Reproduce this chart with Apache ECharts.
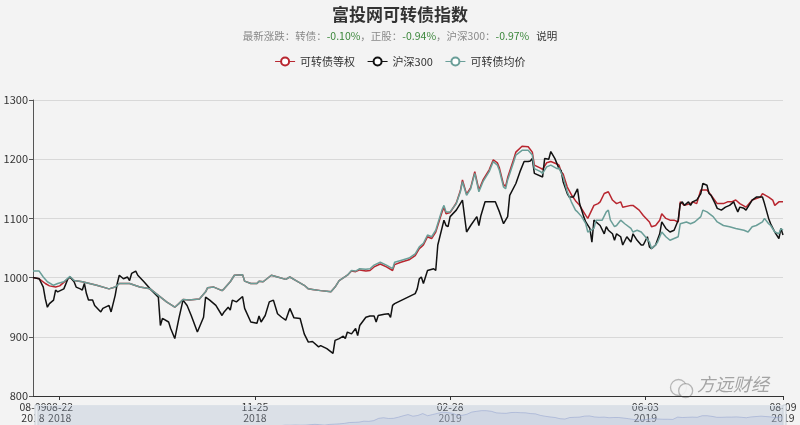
<!DOCTYPE html>
<html><head><meta charset="utf-8">
<script src="https://cdn.jsdelivr.net/npm/echarts@6/dist/echarts.min.js"></script>
<style>html,body{margin:0;padding:0;background:#f3f3f3}#c{width:800px;height:425px}</style>
</head><body><div id="c"></div>
<script>
// category list: calendar days 2018-08-09 .. 2019-08-09
const dates = [];
(function(){const s=Date.UTC(2018,7,9);for(let i=0;i<=365;i++){const d=new Date(s+i*864e5);dates.push(d.getUTCFullYear()+'-'+String(d.getUTCMonth()+1).padStart(2,'0')+'-'+String(d.getUTCDate()).padStart(2,'0'));}})();
const labelDays = [13, 108, 203, 298, 365];
const firstLabelDay = 0;
const seriesNames = ['可转债等权', '沪深300', '可转债均价'];
// [day offset from 2018-08-09, index value]
const cbEqual = [[0,1000],[3,998],[6,990],[8,986],[11,984],[13,986],[15,992],[18,1001],[20,995],[24,993],[31,987],[37,981],[40,984],[42,990],[47,990],[52,984],[57,981],[61,970],[65,959],[69,950],[71,956],[73,963],[76,962],[81,964],[84,976],[85,983],[88,984],[92,978],[93,981],[96,993],[98,1004],[102,1005],[103,994],[106,990],[109,990],[110,994],[112,993],[116,1004],[119,1001],[123,997],[125,1001],[128,995],[132,987],[134,981],[136,980],[140,978],[143,977],[145,976],[147,984],[149,995],[153,1004],[155,1011],[157,1010],[159,1013],[162,1011],[164,1012],[166,1018],[169,1023],[172,1018],[175,1012],[176,1022],[179,1026],[183,1030],[186,1037],[188,1049],[189,1052],[190,1055],[192,1069],[194,1066],[196,1077],[199,1110],[200,1119],[201,1108],[203,1110],[206,1126],[208,1147],[209,1165],[211,1141],[213,1152],[215,1179],[217,1148],[219,1165],[222,1182],[224,1199],[226,1194],[227,1185],[229,1157],[230,1154],[231,1169],[234,1201],[235,1212],[238,1222],[241,1221],[243,1212],[244,1190],[247,1185],[248,1183],[250,1194],[252,1196],[255,1192],[256,1190],[257,1179],[258,1175],[260,1153],[262,1140],[264,1130],[266,1122],[269,1105],[270,1100],[273,1122],[275,1125],[276,1128],[278,1142],[280,1145],[282,1131],[284,1125],[286,1128],[287,1119],[291,1122],[292,1122],[295,1114],[297,1105],[300,1094],[301,1086],[303,1088],[305,1097],[306,1108],[308,1100],[310,1097],[312,1097],[314,1094],[315,1128],[317,1122],[320,1125],[321,1128],[323,1125],[325,1148],[328,1148],[330,1139],[333,1125],[336,1125],[338,1128],[340,1128],[342,1131],[344,1125],[347,1119],[350,1131],[354,1136],[355,1142],[358,1136],[360,1131],[361,1122],[363,1128],[365,1128]];
const hs300 = [[0,1000],[3,998],[5,984],[6,964],[7,950],[8,956],[10,962],[11,979],[12,976],[15,981],[17,998],[18,1001],[20,993],[21,984],[23,981],[24,979],[25,990],[26,973],[27,962],[29,962],[30,953],[33,942],[34,948],[37,953],[38,942],[40,970],[41,990],[42,1004],[44,998],[46,1001],[47,995],[48,1007],[50,1011],[51,1004],[54,993],[57,981],[61,967],[62,919],[63,931],[66,925],[67,914],[69,897],[71,931],[73,962],[75,953],[77,936],[80,908],[83,933],[84,967],[86,962],[89,953],[92,936],[93,942],[95,950],[96,945],[97,962],[99,959],[102,968],[103,948],[106,925],[109,923],[110,935],[111,925],[113,936],[115,959],[117,962],[119,939],[121,933],[123,928],[125,948],[127,932],[130,931],[132,905],[134,891],[136,892],[139,883],[140,885],[143,880],[146,872],[147,894],[149,897],[151,901],[152,897],[153,908],[155,905],[157,914],[158,902],[159,919],[162,933],[164,935],[166,935],[167,925],[168,936],[171,938],[173,939],[174,933],[175,953],[176,956],[186,973],[187,981],[188,998],[189,1001],[190,990],[192,1012],[195,1015],[196,1012],[197,1055],[200,1097],[201,1088],[202,1086],[203,1103],[206,1114],[209,1131],[211,1077],[213,1088],[216,1103],[217,1088],[218,1105],[220,1128],[222,1128],[225,1128],[227,1111],[229,1091],[230,1097],[231,1103],[232,1139],[235,1159],[237,1179],[239,1196],[241,1196],[242,1197],[243,1201],[244,1176],[248,1170],[249,1201],[251,1200],[252,1213],[254,1201],[256,1184],[257,1181],[258,1162],[260,1142],[261,1136],[263,1136],[265,1150],[266,1125],[268,1103],[269,1094],[271,1083],[272,1060],[273,1097],[276,1088],[278,1074],[279,1086],[280,1080],[282,1074],[283,1063],[284,1074],[286,1069],[287,1055],[289,1069],[291,1060],[292,1074],[294,1063],[296,1055],[297,1055],[299,1069],[300,1052],[301,1049],[303,1055],[305,1074],[306,1094],[308,1083],[310,1077],[312,1080],[314,1097],[315,1125],[316,1128],[317,1122],[319,1128],[320,1122],[321,1128],[323,1131],[325,1142],[326,1159],[328,1156],[329,1142],[330,1139],[332,1125],[333,1117],[335,1114],[337,1119],[339,1122],[341,1128],[342,1119],[343,1111],[344,1119],[346,1117],[347,1114],[350,1131],[352,1136],[355,1136],[356,1125],[358,1100],[359,1091],[361,1077],[363,1066],[364,1083],[365,1072]];
const cbAvg = [[0,1011],[3,1011],[5,1001],[7,993],[10,987],[12,990],[15,993],[18,1002],[20,995],[24,993],[31,987],[37,981],[40,984],[42,990],[47,990],[52,984],[57,981],[61,970],[65,959],[69,950],[71,956],[73,963],[76,962],[81,964],[84,976],[85,983],[88,984],[92,978],[93,981],[96,993],[98,1004],[102,1005],[103,994],[106,990],[109,990],[110,994],[112,993],[116,1004],[119,1001],[123,997],[125,1001],[128,995],[132,987],[134,981],[136,980],[140,978],[143,977],[145,976],[147,984],[149,995],[153,1004],[155,1012],[157,1011],[159,1015],[162,1014],[164,1015],[166,1021],[169,1026],[172,1021],[175,1015],[176,1026],[179,1029],[183,1033],[186,1040],[188,1052],[189,1055],[190,1058],[192,1072],[194,1069],[196,1080],[199,1114],[200,1122],[201,1111],[203,1111],[206,1125],[208,1145],[209,1162],[211,1139],[213,1150],[215,1176],[217,1145],[219,1162],[222,1179],[224,1196],[226,1190],[227,1181],[229,1153],[230,1150],[231,1165],[234,1196],[235,1207],[238,1215],[241,1215],[243,1207],[244,1184],[247,1179],[248,1176],[250,1187],[252,1190],[255,1184],[256,1185],[258,1170],[260,1145],[262,1128],[264,1114],[265,1111],[267,1103],[269,1091],[270,1077],[273,1083],[274,1097],[277,1097],[279,1111],[280,1114],[281,1097],[283,1086],[284,1088],[286,1097],[288,1091],[291,1083],[292,1077],[294,1080],[296,1077],[298,1069],[300,1060],[301,1049],[303,1055],[304,1060],[306,1077],[308,1069],[310,1063],[312,1066],[314,1069],[315,1091],[318,1094],[320,1091],[322,1094],[325,1103],[326,1114],[328,1111],[331,1103],[333,1094],[336,1088],[339,1086],[342,1083],[346,1080],[348,1077],[350,1086],[352,1088],[355,1094],[356,1100],[358,1091],[359,1088],[361,1077],[363,1074],[364,1083],[365,1080]];

const colors = ['#b8262f', '#111111', '#6a9e98'];
const FONT = '"Noto Sans CJK SC", "Noto Sans", sans-serif';
const toData = arr => arr.map(p => [dates[p[0]], p[1]]);
const showIdx = i => labelDays.indexOf(i) >= 0;
const fmtDate = v => v.slice(5) + '\n' + v.slice(0, 4);
const labelBase = {fontSize: 10.5, color: '#333', lineHeight: 11, margin: 6, formatter: fmtDate, fontFamily: FONT};

const chart = echarts.init(document.getElementById('c'), null, {renderer: 'canvas'});
chart.setOption({
  backgroundColor: '#f3f3f3',
  animation: false,
  textStyle: {fontFamily: FONT},
  title: {
    left: 'center', top: 1,
    text: '富投网可转债指数',
    textStyle: {fontSize: 17, fontWeight: 'bold', color: '#333', fontFamily: FONT},
    itemGap: 8,
    subtext: '最新涨跌：转债：{g|-0.10%}，正股：{g|-0.94%}，沪深300：{g|-0.97%}   {k|说明}',
    subtextStyle: {fontSize: 10.5, color: '#888', fontFamily: FONT,
      rich: {g: {fontSize: 10.5, color: '#3b873b', fontFamily: FONT}, k: {fontSize: 10.5, color: '#333', fontFamily: FONT}}}
  },
  legend: {
    top: 51, left: 'center', itemWidth: 20, itemHeight: 10, itemGap: 12,
    data: seriesNames,
    itemStyle: {borderWidth: 1},
    lineStyle: {width: 1},
    textStyle: {fontSize: 11, color: '#333', fontFamily: FONT}
  },
  grid: {left: 33, right: 17, top: 100, bottom: 29},
  xAxis: [{
    type: 'category', data: dates, boundaryGap: false,
    axisLine: {lineStyle: {color: '#333', width: 1}},
    axisTick: {interval: showIdx, length: 4, lineStyle: {color: '#333'}},
    axisLabel: Object.assign({interval: showIdx}, labelBase),
    splitLine: {show: false}
  }, {
    type: 'category', data: dates, boundaryGap: false, position: 'bottom', offset: 0,
    axisLine: {show: false}, axisTick: {show: false}, splitLine: {show: false},
    axisLabel: Object.assign({interval: i => i === firstLabelDay}, labelBase)
  }],
  yAxis: {
    type: 'value', min: 800, max: 1300, interval: 100,
    axisLine: {show: true, lineStyle: {color: '#555', width: 1}},
    axisTick: {show: true, length: 4, lineStyle: {color: '#555'}},
    axisLabel: {fontSize: 11, color: '#333', margin: 5, fontFamily: FONT, formatter: v => String(v)},
    splitLine: {lineStyle: {color: '#d8d8d8'}}
  },
  dataZoom: [{
    type: 'slider', xAxisIndex: [0, 1], start: 0, end: 100,
    left: 33, right: 17, top: 405, height: 30,
    showDetail: false, brushSelect: false, moveHandleSize: 0,
    backgroundColor: 'rgba(0,0,0,0)', borderColor: '#dde2e8',
    fillerColor: 'rgba(167,183,204,0.3)',
    handleIcon: 'path://M0,0H3V30H0Z', handleSize: '100%',
    handleStyle: {color: '#e9ecf0', borderColor: '#c9d0d8'},
    dataBackground: {lineStyle: {color: '#b9c3cf', width: 0.5}, areaStyle: {color: '#c8d0da', opacity: 0.5}}
  }],
  graphic: [
    {type: 'circle', left: 668, top: 377, shape: {r: 8}, style: {fill: 'none', stroke: 'rgba(140,140,140,0.6)', lineWidth: 1.3}},
    {type: 'circle', left: 678, top: 383, shape: {r: 7}, style: {fill: 'rgba(243,243,243,0.9)', stroke: 'rgba(140,140,140,0.6)', lineWidth: 1.3}},
    {type: 'text', left: 697, top: 375, style: {text: '方远财经', fill: 'rgba(130,130,130,0.7)', font: 'italic 18px "Noto Sans CJK SC"'}}
  ],
  series: [
    {name: seriesNames[0], type: 'line', xAxisIndex: 0, data: toData(cbEqual), color: colors[0], symbol: 'emptyCircle', symbolSize: 8, showSymbol: false, lineStyle: {width: 1.5}},
    {name: seriesNames[1], type: 'line', xAxisIndex: 0, data: toData(hs300), color: colors[1], symbol: 'emptyCircle', symbolSize: 8, showSymbol: false, lineStyle: {width: 1.5}},
    {name: seriesNames[2], type: 'line', xAxisIndex: 0, data: toData(cbAvg), color: colors[2], symbol: 'emptyCircle', symbolSize: 8, showSymbol: false, lineStyle: {width: 1.5}}
  ]
});
</script></body></html>
